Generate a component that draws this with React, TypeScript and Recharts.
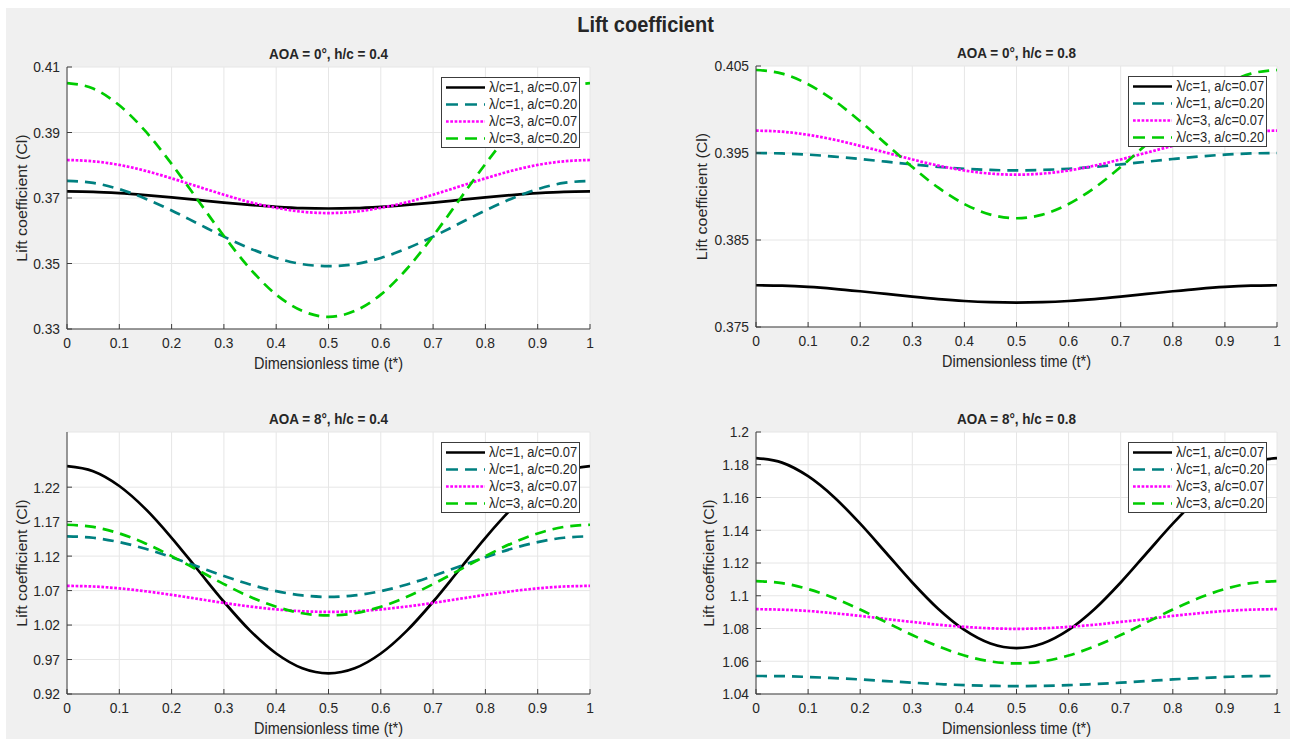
import React from 'react';
import { LineChart, Line, XAxis, YAxis, CartesianGrid, Legend, Label } from 'recharts';

// Dimensionless time samples (t*)
const TIME = [0, 0.05, 0.1, 0.15, 0.2, 0.25, 0.3, 0.35, 0.4, 0.45, 0.5, 0.55, 0.6, 0.65, 0.7, 0.75, 0.8, 0.85, 0.9, 0.95, 1];
const X_TICKS = [0, 0.1, 0.2, 0.3, 0.4, 0.5, 0.6, 0.7, 0.8, 0.9, 1];

const SERIES_NAMES = ['λ/c=1, a/c=0.07', 'λ/c=1, a/c=0.20', 'λ/c=3, a/c=0.07', 'λ/c=3, a/c=0.20'];

// AOA = 0°, h/c = 0.4
const CL_A0_H04_L1_A07 = [0.3720, 0.3719, 0.3715, 0.3709, 0.3702, 0.3694, 0.3686, 0.3679, 0.3673, 0.3669, 0.3668, 0.3669, 0.3673, 0.3679, 0.3686, 0.3694, 0.3702, 0.3709, 0.3715, 0.3719, 0.3720];
const CL_A0_H04_L1_A20 = [0.3752, 0.3746, 0.3727, 0.3698, 0.3662, 0.3622, 0.3582, 0.3546, 0.3517, 0.3498, 0.3492, 0.3498, 0.3517, 0.3546, 0.3582, 0.3622, 0.3662, 0.3698, 0.3727, 0.3746, 0.3752];
const CL_A0_H04_L3_A07 = [0.3816, 0.3812, 0.3801, 0.3783, 0.3760, 0.3735, 0.3710, 0.3687, 0.3670, 0.3658, 0.3654, 0.3658, 0.3670, 0.3687, 0.3710, 0.3735, 0.3760, 0.3783, 0.3801, 0.3812, 0.3816];
const CL_A0_H04_L3_A20 = [0.4051, 0.4034, 0.3983, 0.3904, 0.3804, 0.3694, 0.3584, 0.3484, 0.3405, 0.3355, 0.3337, 0.3355, 0.3405, 0.3484, 0.3584, 0.3694, 0.3804, 0.3904, 0.3983, 0.4034, 0.4051];

// AOA = 0°, h/c = 0.8
const CL_A0_H08_L1_A07 = [0.3798, 0.37975, 0.37961, 0.37939, 0.37911, 0.3788, 0.37849, 0.37821, 0.37799, 0.37785, 0.3778, 0.37785, 0.37799, 0.37821, 0.37849, 0.3788, 0.37911, 0.37939, 0.37961, 0.37975, 0.3798];
const CL_A0_H08_L1_A20 = [0.3950, 0.39495, 0.39481, 0.39459, 0.39431, 0.3940, 0.39369, 0.39341, 0.39319, 0.39305, 0.3930, 0.39305, 0.39319, 0.39341, 0.39369, 0.3940, 0.39431, 0.39459, 0.39481, 0.39495, 0.3950];
const CL_A0_H08_L3_A07 = [0.39757, 0.39745, 0.39709, 0.39653, 0.39582, 0.39504, 0.39426, 0.39355, 0.39299, 0.39263, 0.39251, 0.39263, 0.39299, 0.39355, 0.39426, 0.39504, 0.39582, 0.39653, 0.39709, 0.39745, 0.39757];
const CL_A0_H08_L3_A20 = [0.40454, 0.40412, 0.40291, 0.40103, 0.39865, 0.39602, 0.39339, 0.39101, 0.38913, 0.38792, 0.3875, 0.38792, 0.38913, 0.39101, 0.39339, 0.39602, 0.39865, 0.40103, 0.40291, 0.40412, 0.40454];

// AOA = 8°, h/c = 0.4
const CL_A8_H04_L1_A07 = [1.2504, 1.2431, 1.2217, 1.1885, 1.1466, 1.1002, 1.0538, 1.0119, 0.9787, 0.9573, 0.9500, 0.9573, 0.9787, 1.0119, 1.0538, 1.1002, 1.1466, 1.1885, 1.2217, 1.2431, 1.2504];
const CL_A8_H04_L1_A20 = [1.1487, 1.1466, 1.1403, 1.1306, 1.1183, 1.1048, 1.0912, 1.0789, 1.0692, 1.0630, 1.0608, 1.0630, 1.0692, 1.0789, 1.0912, 1.1048, 1.1183, 1.1306, 1.1403, 1.1466, 1.1487];
const CL_A8_H04_L3_A07 = [1.0768, 1.0759, 1.0732, 1.0690, 1.0638, 1.0580, 1.0521, 1.0469, 1.0427, 1.0400, 1.0391, 1.0400, 1.0427, 1.0469, 1.0521, 1.0580, 1.0638, 1.0690, 1.0732, 1.0759, 1.0768];
const CL_A8_H04_L3_A20 = [1.1655, 1.1623, 1.1529, 1.1384, 1.1200, 1.0997, 1.0794, 1.0610, 1.0465, 1.0371, 1.0339, 1.0371, 1.0465, 1.0610, 1.0794, 1.0997, 1.1200, 1.1384, 1.1529, 1.1623, 1.1655];

// AOA = 8°, h/c = 0.8
const CL_A8_H08_L1_A07 = [1.1841, 1.1813, 1.1730, 1.1602, 1.1440, 1.1261, 1.1081, 1.0919, 1.0791, 1.0708, 1.0680, 1.0708, 1.0791, 1.0919, 1.1081, 1.1261, 1.1440, 1.1602, 1.1730, 1.1813, 1.1841];
const CL_A8_H08_L1_A20 = [1.0510, 1.0509, 1.0504, 1.0497, 1.0489, 1.0479, 1.0469, 1.0461, 1.0454, 1.0450, 1.0448, 1.0450, 1.0454, 1.0461, 1.0469, 1.0479, 1.0489, 1.0497, 1.0504, 1.0509, 1.0510];
const CL_A8_H08_L3_A07 = [1.0918, 1.0915, 1.0907, 1.0893, 1.0877, 1.0858, 1.0840, 1.0823, 1.0810, 1.0801, 1.0798, 1.0801, 1.0810, 1.0823, 1.0840, 1.0858, 1.0877, 1.0893, 1.0907, 1.0915, 1.0918];
const CL_A8_H08_L3_A20 = [1.1089, 1.1077, 1.1041, 1.0986, 1.0916, 1.0838, 1.0760, 1.0691, 1.0635, 1.0599, 1.0587, 1.0599, 1.0635, 1.0691, 1.0760, 1.0838, 1.0916, 1.0986, 1.1041, 1.1077, 1.1089];

// Y-axis ticks per subplot
const Y_TICKS_A0_H04 = [0.33, 0.35, 0.37, 0.39, 0.41];
const Y_TICKS_A0_H08 = [0.375, 0.385, 0.395, 0.405];
const Y_TICKS_A8_H04 = [0.92, 0.97, 1.02, 1.07, 1.12, 1.17, 1.22];
const Y_TICKS_A8_H08 = [1.04, 1.06, 1.08, 1.1, 1.12, 1.14, 1.16, 1.18, 1.2];

const X_LABEL = 'Dimensionless time (t*)';
const Y_LABEL = 'Lift coefficient (Cl)';
const MAIN_TITLE = 'Lift coefficient';

const FONT = '"Liberation Sans", Arial, Helvetica, sans-serif';
const AXIS_COLOR = '#3c3c3c';
const TEXT_COLOR = '#262626';
const GRID_COLOR = '#e6e6e6';
// glyphs are drawn slightly taller than wide
const STRETCH = 1.1;
const CAP = 0.716;

const SERIES_STYLE = [
  { key: 's0', color: '#000000', dash: undefined as string | undefined, legendDash: undefined as string | undefined, width: 2.7 },
  { key: 's1', color: '#008080', dash: '11 7', legendDash: '12 7', width: 2.7 },
  { key: 's2', color: '#ff00ff', dash: '2.7 1.6', legendDash: '2.7 1.6', width: 2.7 },
  { key: 's3', color: '#00cc00', dash: '11 7', legendDash: '12 7', width: 2.7 },
];

const buildRows = (series: number[][]) =>
  TIME.map((t, i) => ({ t, s0: series[0][i], s1: series[1][i], s2: series[2][i], s3: series[3][i] }));

const PANELS = [
  {
    title: 'AOA = 0°, h/c = 0.4',
    rows: buildRows([CL_A0_H04_L1_A07, CL_A0_H04_L1_A20, CL_A0_H04_L3_A07, CL_A0_H04_L3_A20]),
    yTicks: Y_TICKS_A0_H04,
    yDomain: [0.33, 0.41],
    plot: { left: 67, top: 67, width: 523, height: 262 },
    yLabelGap: 45,
  },
  {
    title: 'AOA = 0°, h/c = 0.8',
    rows: buildRows([CL_A0_H08_L1_A07, CL_A0_H08_L1_A20, CL_A0_H08_L3_A07, CL_A0_H08_L3_A20]),
    yTicks: Y_TICKS_A0_H08,
    yDomain: [0.375, 0.405],
    plot: { left: 756, top: 66, width: 521, height: 261 },
    yLabelGap: 54,
  },
  {
    title: 'AOA = 8°, h/c = 0.4',
    rows: buildRows([CL_A8_H04_L1_A07, CL_A8_H04_L1_A20, CL_A8_H04_L3_A07, CL_A8_H04_L3_A20]),
    yTicks: Y_TICKS_A8_H04,
    yDomain: [0.92, 1.3],
    plot: { left: 67, top: 432, width: 523, height: 262 },
    yLabelGap: 45,
  },
  {
    title: 'AOA = 8°, h/c = 0.8',
    rows: buildRows([CL_A8_H08_L1_A07, CL_A8_H08_L1_A20, CL_A8_H08_L3_A07, CL_A8_H08_L3_A20]),
    yTicks: Y_TICKS_A8_H08,
    yDomain: [1.04, 1.2],
    plot: { left: 756, top: 432, width: 521, height: 262 },
    yLabelGap: 47,
  },
];

const Y_AXIS_W = 67;
const X_AXIS_H = 30;
const M_TOP = 30;
const M_RIGHT = 12;
const M_BOTTOM = 20;
const LEGEND_W = 139;
const LEGEND_H = 71;

const TICK_SIZE = 13.8;
const LABEL_SIZE = 14.5;
const TITLE_SIZE = 13.5;
const LEGEND_SIZE = 12.9;

const fmt = (v: number) => String(Number(v.toFixed(4)));

// Horizontal text whose vertical centre sits at cy
const HText = ({ x, cy, size, anchor, weight, children }: any) => (
  <text
    transform={`translate(${x} ${cy + (size * CAP * STRETCH) / 2}) scale(1 ${STRETCH})`}
    textAnchor={anchor}
    fill={TEXT_COLOR}
    fontSize={size}
    fontWeight={weight || 'normal'}
    fontFamily={FONT}
  >
    {children}
  </text>
);

const XTick = (props: any) => {
  const { x, y, payload } = props;
  return (
    <g>
      <line x1={x} x2={x} y1={y} y2={y - 5} stroke={AXIS_COLOR} strokeWidth={1} />
      <HText x={x} cy={y + 14} size={TICK_SIZE} anchor="middle">
        {fmt(payload.value)}
      </HText>
    </g>
  );
};

const YTick = (props: any) => {
  const { x, y, payload } = props;
  return (
    <g>
      <line x1={x} x2={x + 5} y1={y} y2={y} stroke={AXIS_COLOR} strokeWidth={1} />
      <HText x={x - 7} cy={y} size={TICK_SIZE} anchor="end">
        {fmt(payload.value)}
      </HText>
    </g>
  );
};

const XLabelContent = (props: any) => {
  const vb = props.viewBox || {};
  return (
    <HText x={vb.x + vb.width / 2} cy={vb.y + 34} size={LABEL_SIZE} anchor="middle">
      {X_LABEL}
    </HText>
  );
};

const makeYLabel = (gap: number) => (props: any) => {
  const vb = props.viewBox || {};
  const axisX = vb.x + vb.width;
  const cx = axisX - gap;
  const cy = vb.y + vb.height / 2;
  const glyph = (LABEL_SIZE * CAP) / 2;
  return (
    <text
      transform={`translate(${cx + glyph} ${cy}) rotate(-90) scale(${STRETCH} 1)`}
      textAnchor="middle"
      fill={TEXT_COLOR}
      fontSize={LABEL_SIZE}
      fontFamily={FONT}
    >
      {Y_LABEL}
    </text>
  );
};

const LegendBox = (props: any) => {
  const items = (props.payload || []) as any[];
  return (
    <div
      style={{
        width: LEGEND_W,
        height: LEGEND_H,
        boxSizing: 'border-box',
        border: `1px solid ${AXIS_COLOR}`,
        background: '#ffffff',
        padding: '1px 0 1px 4px',
        fontFamily: FONT,
        fontSize: LEGEND_SIZE,
        color: TEXT_COLOR,
      }}
    >
      {items.map((entry) => {
        const st = SERIES_STYLE.find((s) => s.key === entry.dataKey) || SERIES_STYLE[0];
        return (
          <div key={String(entry.dataKey)} style={{ display: 'flex', alignItems: 'center', height: 17, whiteSpace: 'nowrap' }}>
            <svg width={39} height={17} style={{ flex: 'none', marginRight: 4 }}>
              <line x1={0} x2={39} y1={8.5} y2={8.5} stroke={st.color} strokeWidth={st.width} strokeDasharray={st.legendDash} />
            </svg>
            <span style={{ display: 'inline-block', lineHeight: '17px', transform: `scaleY(${STRETCH})` }}>{entry.value}</span>
          </div>
        );
      })}
    </div>
  );
};

const Panel = ({ panel }: { panel: (typeof PANELS)[number] }) => {
  const { plot } = panel;
  const width = plot.width + Y_AXIS_W + M_RIGHT;
  const height = plot.height + M_TOP + X_AXIS_H + M_BOTTOM;
  const left = plot.left - Y_AXIS_W;
  const top = plot.top - M_TOP;
  return (
    <div style={{ position: 'absolute', left, top, width, height }}>
      <LineChart
        width={width}
        height={height}
        data={panel.rows}
        margin={{ top: M_TOP, right: M_RIGHT, bottom: M_BOTTOM, left: 0 }}
        style={{ fontFamily: FONT }}
      >
        <CartesianGrid stroke={GRID_COLOR} strokeWidth={1} fill="#ffffff" fillOpacity={1} />
        <XAxis
          dataKey="t"
          type="number"
          domain={[0, 1]}
          ticks={X_TICKS}
          height={X_AXIS_H}
          tickSize={0}
          tickMargin={0}
          tickLine={false}
          stroke={AXIS_COLOR}
          tick={<XTick />}
          interval={0}
          allowDataOverflow
        >
          <Label content={XLabelContent} />
        </XAxis>
        <YAxis
          type="number"
          domain={panel.yDomain}
          ticks={panel.yTicks}
          width={Y_AXIS_W}
          tickSize={0}
          tickMargin={0}
          tickLine={false}
          stroke={AXIS_COLOR}
          tick={<YTick />}
          interval={0}
          allowDataOverflow
        >
          <Label content={makeYLabel(panel.yLabelGap)} />
        </YAxis>
        <Legend
          layout="horizontal"
          verticalAlign="middle"
          align="center"
          content={<LegendBox />}
          wrapperStyle={{
            left: Y_AXIS_W + plot.width - 10 - LEGEND_W,
            top: M_TOP + 10,
            width: LEGEND_W,
            height: LEGEND_H,
          }}
        />
        {SERIES_STYLE.map((s, i) => (
          <Line
            key={s.key}
            dataKey={s.key}
            name={SERIES_NAMES[i]}
            type="monotone"
            stroke={s.color}
            strokeWidth={s.width}
            strokeDasharray={s.dash}
            dot={false}
            activeDot={false}
            isAnimationActive={false}
          />
        ))}
      </LineChart>
      <svg
        width={plot.width}
        height={M_TOP}
        style={{ position: 'absolute', left: Y_AXIS_W, top: 0, overflow: 'visible' }}
      >
        <HText x={plot.width / 2} cy={M_TOP - 13} size={TITLE_SIZE} anchor="middle" weight="bold">
          {panel.title}
        </HText>
      </svg>
    </div>
  );
};

export default function App() {
  return (
    <div style={{ position: 'relative', width: 1290, height: 739, background: '#ffffff', overflow: 'hidden' }}>
      <style>{'body{margin:0;}'}</style>
      <div style={{ position: 'absolute', left: 6, top: 8, right: 0, bottom: 0, background: '#f0f0f0' }} />
      <svg width={1290} height={44} style={{ position: 'absolute', left: 0, top: 0 }}>
        <HText x={645.5} cy={24} size={20} anchor="middle" weight="bold">
          {MAIN_TITLE}
        </HText>
      </svg>
      {PANELS.map((p) => (
        <Panel key={p.title} panel={p} />
      ))}
    </div>
  );
}
